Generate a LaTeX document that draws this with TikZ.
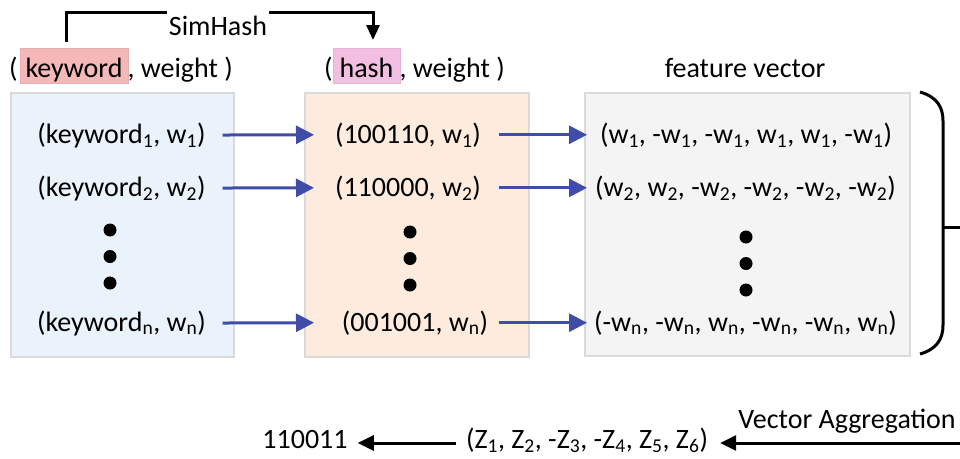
\documentclass[tikz,border=0pt]{standalone}
\usepackage{fontspec}
\setmainfont{Carlito}
\usetikzlibrary{arrows.meta,calc}
\definecolor{boxblue}{HTML}{EAF2FB}
\definecolor{boxorange}{HTML}{FDEBDD}
\definecolor{boxgray}{HTML}{F4F4F4}
\definecolor{boxedge}{HTML}{DADADA}
\definecolor{arrowblue}{HTML}{3F4CA8}
\definecolor{kwpink}{HTML}{F4B8B8}
\definecolor{hashpink}{HTML}{F2BFE2}
\begin{document}
\begin{tikzpicture}[x=1pt,y=-1pt,
  font=\fontsize{28}{32}\selectfont,
  panel/.style={draw=boxedge, line width=1.5pt, anchor=north west, inner sep=0pt},
  txt/.style={inner sep=0pt, anchor=base},
  dot/.style={circle, fill=black, inner sep=0pt, minimum size=13pt},
  bluearrow/.style={arrowblue, line width=3pt, -{Triangle[length=18pt,width=18pt]}},
  blackarrow/.style={black, line width=3pt, -{Triangle[length=16pt,width=15pt]}},
  hl/.style={inner xsep=0pt, inner ysep=2pt, text height=27pt, text depth=4pt, anchor=base},
]
\useasboundingbox (0,0) rectangle (960,458);

% panels
\node[panel, fill=boxblue, minimum width=223pt, minimum height=264pt] (kwbox) at (10,92) {};
\node[panel, fill=boxorange, minimum width=224pt, minimum height=264pt] (hbox) at (304,92) {};
\node[panel, fill=boxgray, minimum width=325pt, minimum height=263pt] (fbox) at (584,92) {};

% header labels
\node[hl, fill=kwpink, draw=kwpink!85!gray, line width=0.6pt, minimum width=108pt] (kw) at (74,77) {keyword};
\node[txt, anchor=base east, xshift=-2pt] (kwl) at (kw.base west) {(};
\node[txt, anchor=base west, xshift=-1pt] (kwr) at (kw.base east) {, weight )};

\node[hl, fill=hashpink, draw=hashpink!85!gray, line width=0.6pt, minimum width=67pt] (hs) at (366.5,77) {hash};
\node[txt, anchor=base east, xshift=0pt] (hsl) at (hs.base west) {(};
\node[txt, anchor=base west, xshift=-1pt] (hsr) at (hs.base east) {, weight )};

\node[txt] (fv) at (745,77) {feature vector};

% SimHash connector
\coordinate (simstart) at (66,42);
\coordinate (simend) at (373,40);
\draw[line width=3pt, miter limit=4, -{Triangle[length=15pt,width=13pt]}] (simstart) -- ++(0,-30) -| (simend);
\node[txt, fill=white, inner xsep=2pt, inner ysep=0pt, text height=27pt, text depth=2pt] (sim) at (218,35) {SimHash};

% rows: keywords
\node[txt] (k1) at (121.5,143) {(keyword\textsubscript{1}, w\textsubscript{1})};
\node[txt] (k2) at (121.5,196) {(keyword\textsubscript{2}, w\textsubscript{2})};
\node[txt] (kn) at (121.5,331) {(keyword\textsubscript{n}, w\textsubscript{n})};
\node[dot] (kd1) at (110,230) {};
\node[dot] (kd2) at (110,256.5) {};
\node[dot] (kd3) at (110,283) {};

% rows: hashes
\node[txt] (h1) at (408,143) {(100110, w\textsubscript{1})};
\node[txt] (h2) at (408,196) {(110000, w\textsubscript{2})};
\node[txt] (hn) at (415,331) {(001001, w\textsubscript{n})};
\node[dot] (hd1) at (410,232) {};
\node[dot] (hd2) at (410,258.5) {};
\node[dot] (hd3) at (410,285) {};

% rows: feature vectors
\node[txt] (f1) at (746,143) {(w\textsubscript{1}, -w\textsubscript{1}, -w\textsubscript{1}, w\textsubscript{1}, w\textsubscript{1}, -w\textsubscript{1})};
\node[txt] (f2) at (745.5,196) {(w\textsubscript{2}, w\textsubscript{2}, -w\textsubscript{2}, -w\textsubscript{2}, -w\textsubscript{2}, -w\textsubscript{2})};
\node[txt] (fn) at (745.5,331) {(-w\textsubscript{n}, -w\textsubscript{n}, w\textsubscript{n}, -w\textsubscript{n}, -w\textsubscript{n}, w\textsubscript{n})};
\node[dot] (fd1) at (746,237) {};
\node[dot] (fd2) at (746,263.5) {};
\node[dot] (fd3) at (746,290) {};

% blue arrows
\foreach \r in {1,2,n}{
  \draw[bluearrow] ($(k\r.east -| kwbox.east)+(-12,0)$) -- ($(h\r.west -| hbox.west)+(10,0)$);
  \draw[bluearrow] ($(h\r.east -| hbox.east)+(-31,0)$) -- ($(f\r.west -| fbox.west)+(3,0)$);
}

% brace
\draw[line width=3pt] (920,92) .. controls (937,97) and (943,107) .. (943,121) -- (943,325) .. controls (943,339) and (937,349) .. (920,354);
\coordinate (bracetip) at (943,227);
\coordinate (braceout) at (960,227);
\draw[line width=3pt] (bracetip) -- (braceout);

% bottom row
\node[txt] (va) at (847,428) {Vector Aggregation};
\node[txt] (z) at (587,448) {(Z\textsubscript{1}, Z\textsubscript{2}, -Z\textsubscript{3}, -Z\textsubscript{4}, Z\textsubscript{5}, Z\textsubscript{6})};
\node[txt] (res) at (305,448) {110011};
\coordinate (aggin) at (960,443);
\draw[blackarrow] (aggin) -- ($(z.east |- aggin)+(12,0)$);
\draw[blackarrow] ($(z.west |- aggin)+(-10,0)$) -- ($(res.east |- aggin)+(10,0)$);
\end{tikzpicture}
\end{document}
